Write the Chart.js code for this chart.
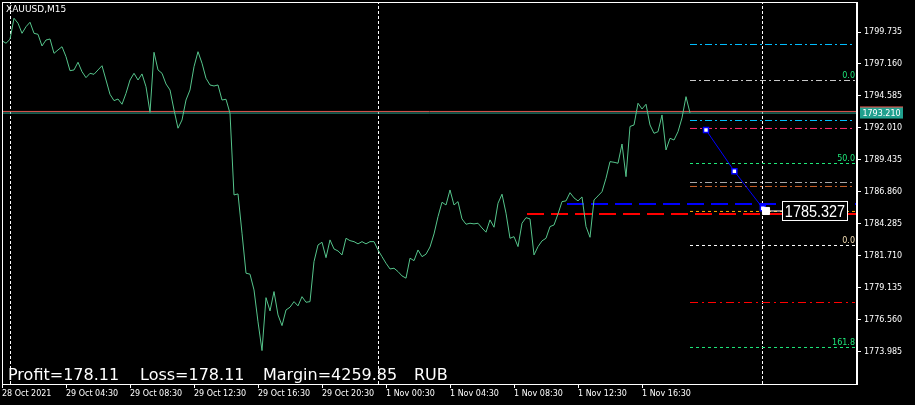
<!DOCTYPE html>
<html>
<head>
<meta charset="utf-8">
<script src="https://cdn.jsdelivr.net/npm/chart.js@4.4.0/dist/chart.umd.min.js"></script>
<style>
  html, body { margin: 0; padding: 0; background: #000; }
  canvas { display: block; }
</style>
</head>
<body>
<canvas id="chart" width="915" height="405"></canvas>
<script>
// XAUUSD M15 closes, one value per bar (bar index = position in array)
const closes = [
  1799.03, 1798.83, 1799.15, 1800.84, 1800.44, 1799.63, 1800.16, 1800.52, 1799.63, 1799.55,
  1798.61, 1799.09, 1799.17, 1798.02, 1798.29, 1798.55, 1797.75, 1796.62, 1796.68, 1797.30,
  1796.54, 1796.06, 1796.41, 1796.33, 1796.68, 1797.02, 1795.87, 1794.72, 1794.21, 1794.34,
  1793.92, 1794.80, 1795.87, 1796.41, 1795.87, 1796.36, 1795.33, 1793.27, 1798.10, 1796.68,
  1796.41, 1795.55, 1795.07, 1793.46, 1791.99, 1792.65, 1794.26, 1795.07, 1796.94, 1798.15,
  1797.22, 1796.01, 1795.47, 1795.39, 1795.47, 1794.26, 1794.32, 1793.19, 1786.62, 1786.70,
  1783.54, 1780.32, 1780.24, 1778.97, 1776.40, 1774.09, 1778.35, 1777.28, 1778.84, 1776.96,
  1776.10, 1777.36, 1777.58, 1778.03, 1777.69, 1778.43, 1777.98, 1778.03, 1781.25, 1782.59,
  1782.81, 1781.57, 1783.00, 1782.27, 1782.11, 1781.79, 1783.13, 1782.94, 1782.86, 1782.68,
  1782.86, 1782.68, 1782.86, 1782.86, 1782.19, 1781.65, 1781.12, 1780.66, 1780.72, 1780.45,
  1780.10, 1779.92, 1781.53, 1781.33, 1782.19, 1781.65, 1781.85, 1782.43, 1783.48, 1784.87,
  1786.03, 1785.81, 1787.02, 1785.81, 1786.08, 1784.69, 1784.26, 1784.34, 1784.29, 1784.34,
  1783.96, 1783.62, 1784.61, 1784.02, 1785.95, 1786.68, 1785.15, 1783.13, 1783.26, 1782.46,
  1784.34, 1784.79, 1784.69, 1781.79, 1782.46, 1782.92, 1783.13, 1784.07, 1784.20, 1785.09,
  1786.08, 1786.14, 1786.80, 1786.38, 1786.14, 1786.46, 1784.07, 1783.21, 1786.22, 1786.54,
  1786.88, 1787.96, 1789.30, 1789.25, 1789.17, 1790.72, 1788.09, 1792.13, 1792.25, 1794.00,
  1793.54, 1793.92, 1792.25, 1791.58, 1791.71, 1793.06, 1790.24, 1791.18, 1791.04, 1791.71,
  1792.82, 1794.53, 1793.22
];

const timeTickBars = [0, 16, 32, 48, 64, 80, 96, 112, 128, 144, 160];
const timeLabels = ['28 Oct 2021', '29 Oct 04:30', '29 Oct 08:30', '29 Oct 12:30', '29 Oct 16:30',
  '29 Oct 20:30', '1 Nov 00:30', '1 Nov 04:30', '1 Nov 08:30', '1 Nov 12:30', '1 Nov 16:30'];
const priceTicks = [1773.985, 1776.560, 1779.135, 1781.710, 1784.285, 1786.860,
  1789.435, 1792.010, 1794.585, 1797.160, 1799.735];

const xMax = 213.75;
const yMin = 1771.40, yMax = 1802.15;

const bid = 1793.21, ask = 1793.34;
const daySeparators = [2.125, 94.125, 190.125];

// right-hand object levels: price, first bar, last bar
const levelPrices = [1798.73, 1795.83, 1792.61, 1791.97, 1789.15, 1787.62, 1787.30, 1785.89, 1785.29, 1785.08, 1782.55, 1777.96, 1774.34];
const levelStart  = [172, 172, 172, 172, 172, 172, 172, 141.25, 172, 131.25, 172, 172, 172];
const levelEnd    = [213.25, 213.25, 213.25, 213.25, 213.25, 213.25, 213.25, 213.75, 213.25, 213.75, 213.25, 213.25, 213.25];
const levelColors = ['#00bfff', '#c8c8c8', '#00bfff', '#ff2a6d', '#1ee87a', '#a8a8a8', '#c8602a', '#0000ff', '#ffa500', '#ff0000', '#ffffff', '#ff0000', '#1ee87a'];
const levelDash   = [[7, 3, 2, 3], [6, 3, 2, 3], [7, 3, 2, 3], [7, 3, 2, 3], [3, 3], [7, 3, 2, 3], [7, 3, 2, 3], [17, 7], [3, 3], [17, 7], [3, 3], [8, 4, 2, 4], [3, 3]];
const levelWidth  = [1, 1, 1, 1, 1, 1, 1, 2, 1, 2, 1, 1, 1];

const captionText   = ['0.0', '50.0', '0.0', '161.8'];
const captionPrice  = [1795.83, 1789.15, 1782.55, 1774.34];
const captionColors = ['#1ee87a', '#1ee87a', '#f5deb3', '#1ee87a'];

// order path (blue) and its price marker
const pathBars = [176, 183.1, 190.2];
const pathPrices = [1791.85, 1788.52, 1785.55];
const markBar = 191, boxBar = 195, markPrice = 1785.327;

const infoText = ['Profit=178.11', 'Loss=178.11', 'Margin=4259.85', 'RUB'];

const datasets = [];

datasets.push({
  data: closes.map((c, i) => ({x: i, y: c})),
  borderColor: '#55c48b', borderWidth: 1, order: 3
});
datasets.push({
  data: [{x: 0, y: ask}, {x: xMax, y: ask}],
  borderColor: '#e0564f', borderWidth: 1, order: 4
});
datasets.push({
  data: [{x: 0, y: bid}, {x: xMax, y: bid}],
  borderColor: '#2fa58f', borderWidth: 1, order: 4
});
levelPrices.forEach((p, i) => {
  datasets.push({
    data: [{x: levelStart[i], y: p}, {x: levelEnd[i], y: p}],
    borderColor: levelColors[i], borderWidth: levelWidth[i], borderDash: levelDash[i], order: 5
  });
});
daySeparators.forEach(b => {
  datasets.push({
    data: [{x: b, y: yMin}, {x: b, y: yMax}],
    borderColor: '#ffffff', borderWidth: 1, borderDash: [3, 2], order: 6
  });
});
datasets.push({
  data: pathBars.map((b, i) => ({x: b, y: pathPrices[i]})),
  borderColor: '#0000ff', borderWidth: 1, order: 2,
  pointStyle: 'rect', pointRadius: 3.5, pointBackgroundColor: '#ffffff',
  pointBorderColor: '#0000ff', pointBorderWidth: 1.5
});
datasets.push({
  data: [{x: markBar, y: markPrice}, {x: boxBar, y: markPrice}],
  borderColor: '#ffffff', borderWidth: 1, order: 1,
  pointStyle: 'rect', pointRadius: [5, 0], pointBackgroundColor: '#ffffff', pointBorderColor: '#ffffff'
});

const mtOverlay = {
  id: 'mtOverlay',
  beforeDraw(chart) {
    const ctx = chart.ctx;
    ctx.save();
    ctx.fillStyle = '#000';
    ctx.fillRect(0, 0, chart.width, chart.height);
    ctx.restore();
  },
  afterDraw(chart) {
    const {ctx, chartArea: a} = chart;
    const x = chart.scales.x, y = chart.scales.y;
    ctx.save();

    // frame
    ctx.strokeStyle = '#ffffff';
    ctx.lineWidth = 1;
    ctx.strokeRect(a.left + 0.5, a.top + 0.5, a.right - a.left - 1, a.bottom - a.top);

    // level captions
    ctx.font = '8px "DejaVu Sans"';
    ctx.textAlign = 'right';
    ctx.textBaseline = 'bottom';
    captionText.forEach((t, i) => {
      ctx.fillStyle = captionColors[i];
      ctx.fillText(t, x.getPixelForValue(213.25), y.getPixelForValue(captionPrice[i]) - 1);
    });

    // ask / bid boxes on the price scale
    const ya = y.getPixelForValue(ask), yb = y.getPixelForValue(bid);
    ctx.fillStyle = '#e0564f';
    ctx.fillRect(a.right + 3, ya - 5, 43, 10);
    ctx.fillStyle = '#20a08e';
    ctx.fillRect(a.right + 3, yb - 5.5, 43, 11);
    ctx.fillStyle = '#ffffff';
    ctx.textAlign = 'center';
    ctx.textBaseline = 'middle';
    ctx.fillText(bid.toFixed(3), a.right + 24.5, yb + 0.5);

    // price box
    const bx = x.getPixelForValue(boxBar), by = y.getPixelForValue(markPrice);
    ctx.fillStyle = '#000';
    ctx.fillRect(bx, by - 10, 65, 20);
    ctx.strokeStyle = '#ffffff';
    ctx.strokeRect(bx + 0.5, by - 9.5, 65, 19);
    ctx.fillStyle = '#ffffff';
    ctx.font = '17px "Liberation Sans"';
    ctx.save();
    ctx.translate(bx + 33, by + 1);
    ctx.scale(0.85, 1);
    ctx.fillText(markPrice.toFixed(3), 0, 0);
    ctx.restore();

    // symbol caption
    ctx.font = '9px "DejaVu Sans"';
    ctx.textAlign = 'left';
    ctx.fillText('XAUUSD,M15', 6, 9.5);

    // account info line
    ctx.font = '16px "DejaVu Sans"';
    ctx.textBaseline = 'alphabetic';
    const infoX = [8, 140, 263, 414];
    infoText.forEach((t, i) => ctx.fillText(t, infoX[i], 380));

    ctx.restore();
  }
};

const noEdgePadding = s => {
  s.paddingTop = 0; s.paddingBottom = 0; s.paddingLeft = 0; s.paddingRight = 0;
};

new Chart(document.getElementById('chart'), {
  type: 'line',
  data: {datasets},
  options: {
    responsive: false,
    animation: false,
    events: [],
    layout: {autoPadding: false, padding: {top: 2, left: 2, right: 0, bottom: 0}},
    elements: {point: {radius: 0}, line: {tension: 0}},
    plugins: {legend: {display: false}, tooltip: {enabled: false}},
    scales: {
      x: {
        type: 'linear', min: 0, max: xMax,
        afterBuildTicks: s => { s.ticks = timeTickBars.map(v => ({value: v})); },
        afterFit: s => { s.height = 21; noEdgePadding(s); },
        grid: {drawOnChartArea: false, color: '#ffffff', tickLength: 4},
        border: {color: '#ffffff'},
        ticks: {
          color: '#ffffff', font: {family: 'DejaVu Sans', size: 8},
          align: 'start', maxRotation: 0, autoSkip: false, padding: 1,
          callback: (v, i) => timeLabels[i]
        }
      },
      y: {
        position: 'right', min: yMin, max: yMax,
        afterBuildTicks: s => { s.ticks = priceTicks.map(v => ({value: v})); },
        afterFit: s => { s.width = 58; noEdgePadding(s); },
        grid: {drawOnChartArea: false, color: '#ffffff', tickLength: 4},
        border: {color: '#ffffff'},
        ticks: {
          color: '#ffffff', font: {family: 'DejaVu Sans', size: 8},
          autoSkip: false, padding: 3,
          callback: v => v.toFixed(3)
        }
      }
    }
  },
  plugins: [mtOverlay]
});
</script>
</body>
</html>
